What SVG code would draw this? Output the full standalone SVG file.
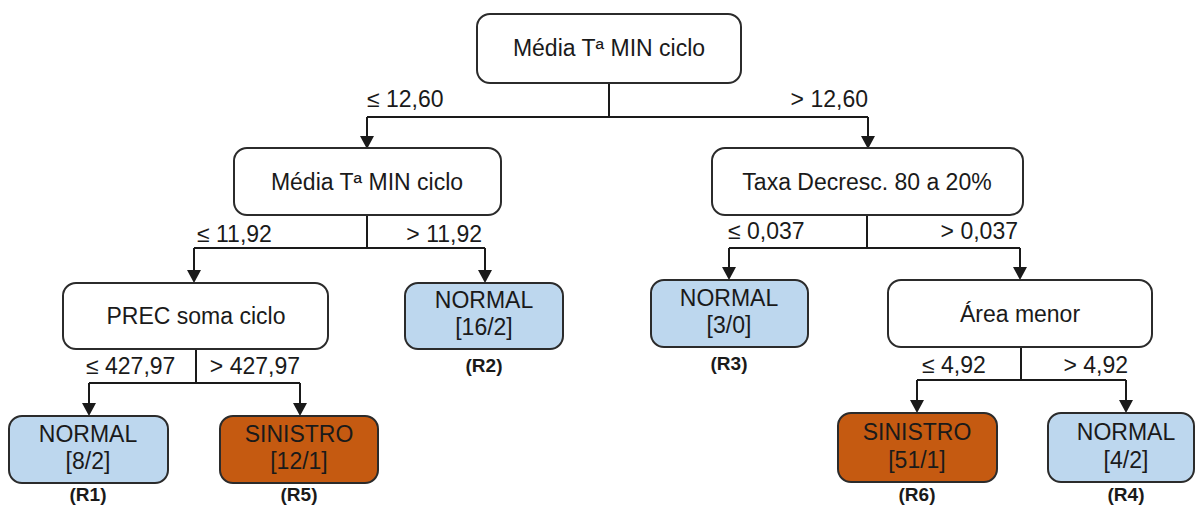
<svg xmlns="http://www.w3.org/2000/svg" width="1196" height="506" viewBox="0 0 1196 506">
  <style>
    .box { stroke: #2b2b2b; stroke-width: 2; }
    .split { fill: #ffffff; }
    .normal { fill: #bdd7ee; }
    .sinistro { fill: #c55a11; }
    .t { font-family: "Liberation Sans", Arial, sans-serif; font-size: 23px; fill: #1a1a1a; text-anchor: middle; }
    .lbl { font-family: "Liberation Sans", Arial, sans-serif; font-size: 23px; fill: #1a1a1a; }
    .end { text-anchor: end; }
    .rid { font-family: "Liberation Sans", Arial, sans-serif; font-size: 19px; font-weight: bold; fill: #1a1a1a; text-anchor: middle; }
    .wire { fill: none; stroke: #1a1a1a; stroke-width: 2; }
  </style>
  <rect width="1196" height="506" fill="#ffffff"/>

  <g id="connectors">
    <!-- root split -->
    <path class="wire" d="M609,83 V117 M367,117 H868 M367,117 V140 M868,117 V140"/>
    <!-- left split -->
    <path class="wire" d="M367,215 V248 M194,248 H485 M194,248 V274 M485,248 V274"/>
    <!-- right split -->
    <path class="wire" d="M867,215 V248 M729,248 H1020 M729,248 V271 M1020,248 V271"/>
    <!-- PREC split -->
    <path class="wire" d="M196,349 V383 M89,383 H300 M89,383 V407 M300,383 V407"/>
    <!-- Área split -->
    <path class="wire" d="M1021,347 V380 M917,380 H1126 M917,380 V404 M1126,380 V404"/>
    <!-- arrowheads -->
    <g fill="#1a1a1a">
      <path d="M360,136 H374 L367,149 Z"/>
      <path d="M861,136 H875 L868,149 Z"/>
      <path d="M187,270 H201 L194,283 Z"/>
      <path d="M478,270 H492 L485,283 Z"/>
      <path d="M722,267 H736 L729,280 Z"/>
      <path d="M1013,267 H1027 L1020,280 Z"/>
      <path d="M82,403 H96 L89,416 Z"/>
      <path d="M293,403 H307 L300,416 Z"/>
      <path d="M910,400 H924 L917,413 Z"/>
      <path d="M1119,400 H1133 L1126,413 Z"/>
    </g>
    <!-- branch labels -->
    <text class="lbl" x="367" y="107">≤ 12,60</text>
    <text class="lbl end" x="868" y="107">&gt; 12,60</text>
    <text class="lbl" x="197" y="242">≤ 11,92</text>
    <text class="lbl end" x="482" y="242">&gt; 11,92</text>
    <text class="lbl" x="728" y="239">≤ 0,037</text>
    <text class="lbl end" x="1018" y="239">&gt; 0,037</text>
    <text class="lbl" x="86" y="374">≤ 427,97</text>
    <text class="lbl end" x="300" y="374">&gt; 427,97</text>
    <text class="lbl" x="922" y="373">≤ 4,92</text>
    <text class="lbl end" x="1128" y="373">&gt; 4,92</text>
  </g>

  <g id="root">
    <rect class="box split" x="477" y="14" width="264" height="69" rx="13"/>
    <text class="t" x="609" y="56">Média Tª MIN ciclo</text>
  </g>
  <g id="media-min">
    <rect class="box split" x="234" y="148" width="267" height="67" rx="13"/>
    <text class="t" x="367" y="190">Média Tª MIN ciclo</text>
  </g>
  <g id="taxa-decresc">
    <rect class="box split" x="712" y="148" width="311" height="67" rx="13"/>
    <text class="t" x="867" y="190">Taxa Decresc. 80 a 20%</text>
  </g>
  <g id="prec-soma">
    <rect class="box split" x="63" y="283" width="265" height="66" rx="13"/>
    <text class="t" x="196" y="324">PREC soma ciclo</text>
  </g>
  <g id="r2">
    <rect class="box normal" x="405" y="283" width="158" height="66" rx="13"/>
    <text class="t" x="484" y="308">NORMAL</text>
    <text class="t" x="484" y="335">[16/2]</text>
    <text class="rid" x="484" y="372">(R2)</text>
  </g>
  <g id="r3">
    <rect class="box normal" x="651" y="280" width="157" height="67" rx="13"/>
    <text class="t" x="729" y="306">NORMAL</text>
    <text class="t" x="729" y="333">[3/0]</text>
    <text class="rid" x="729" y="370">(R3)</text>
  </g>
  <g id="area-menor">
    <rect class="box split" x="888" y="280" width="264" height="67" rx="13"/>
    <text class="t" x="1020" y="322">Área menor</text>
  </g>
  <g id="r1">
    <rect class="box normal" x="9" y="416" width="159" height="67" rx="13"/>
    <text class="t" x="88" y="442">NORMAL</text>
    <text class="t" x="88" y="469">[8/2]</text>
    <text class="rid" x="88" y="501">(R1)</text>
  </g>
  <g id="r5">
    <rect class="box sinistro" x="220" y="416" width="158" height="67" rx="13"/>
    <text class="t" x="299" y="442">SINISTRO</text>
    <text class="t" x="299" y="469">[12/1]</text>
    <text class="rid" x="299" y="501">(R5)</text>
  </g>
  <g id="r6">
    <rect class="box sinistro" x="838" y="413" width="159" height="69" rx="13"/>
    <text class="t" x="917" y="440">SINISTRO</text>
    <text class="t" x="917" y="468">[51/1]</text>
    <text class="rid" x="917" y="501">(R6)</text>
  </g>
  <g id="r4">
    <rect class="box normal" x="1048" y="413" width="146" height="69" rx="13"/>
    <text class="t" x="1126" y="440">NORMAL</text>
    <text class="t" x="1126" y="468">[4/2]</text>
    <text class="rid" x="1126" y="501">(R4)</text>
  </g>
</svg>
